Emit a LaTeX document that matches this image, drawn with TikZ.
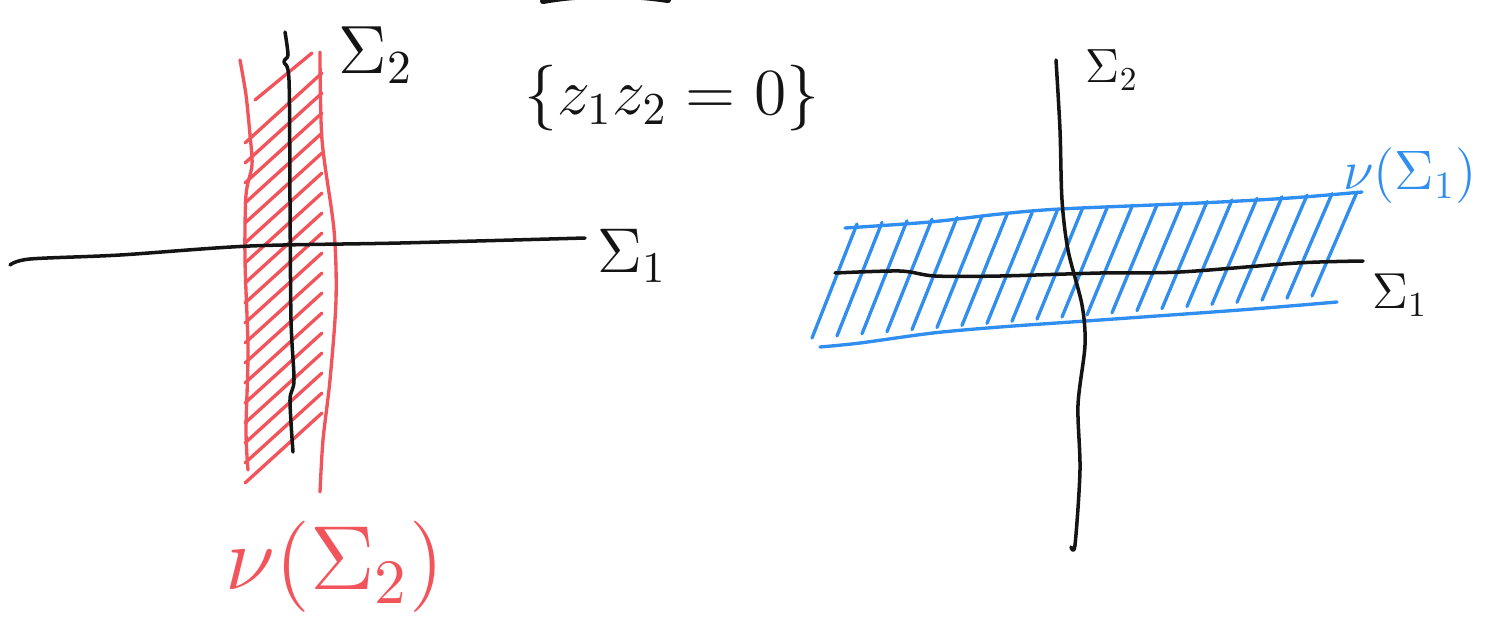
\documentclass[tikz,border=0pt]{standalone}
\usetikzlibrary{positioning}

\definecolor{cAxis}{gray}{0.08}
\definecolor{cRed}{RGB}{242,84,92}
\definecolor{cBlue}{RGB}{47,142,239}

\begin{document}
\begin{tikzpicture}[x=0.02cm, y=-0.02cm, line cap=round, line join=round,
    axis/.style={draw=cAxis, line width=2pt},
    redpen/.style={draw=cRed, line width=1.9pt},
    bluepen/.style={draw=cBlue, line width=1.9pt},
    lbl/.style={font=\Large, text=cAxis, inner sep=0pt}]

\useasboundingbox (0,0) rectangle (1488,623);

% ── Stroke cut off at the top ──
\draw[cAxis, line width=3.5pt] (543,1) .. controls (580,-6) and (630,-6) .. (668,0);

% ── Left picture: red neighbourhood of Sigma_2 ──
\draw[redpen] plot[smooth] coordinates {(240,60) (246,95) (250,135) (252,165) (246,195) (245,260) (248,350) (246,430) (248,470)};
\draw[redpen] plot[smooth] coordinates {(320,52) (322,140) (334,230) (336,300) (330,380) (323,440) (320,492)};
\draw[redpen] (255,100) -- (312,53);
\foreach \i in {0,...,17}
    \draw[redpen] (245,{143+20*\i}) -- (322,{73+20*\i});

% ── Left axes ──
\draw[axis] plot[smooth] coordinates {(10,265) (30,259) (120,255) (250,246) (400,243) (585,238)};
\draw[axis] plot[smooth] coordinates {(285,32) (288,55) (284,62) (289,80) (290,200) (291,320) (294,380) (290,400) (293,452)};

\node[lbl, scale=2.7] (sigTwoL) at (376,55) {$\Sigma_2$};
\node[lbl, scale=2.5] (sigOneL) at (632,256) {$\Sigma_1$};
\node[lbl, scale=2.6] (locus) at (672,98) {$\{z_1 z_2 = 0\}$};
\node[lbl, scale=3.6, text=cRed] (nuTwo) at (335,567) {$\nu(\Sigma_2)$};

% ── Right picture: blue neighbourhood of Sigma_1 ──
\draw[bluepen] plot[smooth] coordinates {(845,228) (930,222) (1000,214) (1060,209) (1200,203) (1290,198) (1362,192)};
\draw[bluepen] plot[smooth] coordinates {(820,347) (860,343) (933,333) (1000,327) (1100,320) (1240,310) (1337,302)};
\foreach \i in {0,...,20}
    \draw[bluepen] ({812+25*\i},{338-2.1*\i}) -- ({857+25*\i},{224-1.6*\i});

% ── Right axes ──
\draw[axis] plot[smooth] coordinates {(835,273) (900,271) (935,276) (1000,276) (1100,273) (1180,272) (1297,263) (1363,261)};
\draw[axis] plot[smooth] coordinates {(1056,60) (1060,130) (1062,200) (1068,250) (1082,305) (1085,345) (1078,405) (1080,470) (1075,545) (1071,547)};

\node[lbl, scale=1.9] (sigTwoR) at (1112,70) {$\Sigma_2$};
\node[lbl, scale=2.0] (sigOneR) at (1400,295) {$\Sigma_1$};
\node[lbl, scale=2.2, text=cBlue] (nuOne) at (1410,176) {$\nu(\Sigma_1)$};

\end{tikzpicture}
\end{document}
